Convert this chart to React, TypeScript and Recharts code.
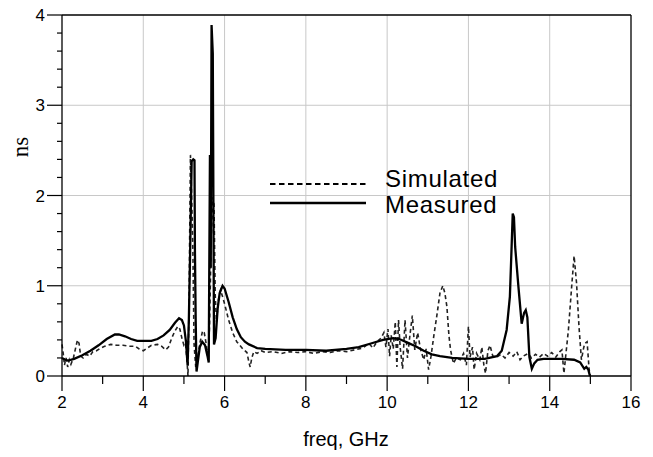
import { LineChart, Line, XAxis, YAxis, ReferenceLine } from 'recharts'

// frequency (GHz) / group delay (ns)
const measuredFreq = [2.0, 2.08, 2.15, 2.3, 2.5, 2.7, 2.9, 3.1, 3.3, 3.4, 3.55, 3.7, 3.85, 4.0, 4.2, 4.35, 4.5, 4.65, 4.78, 4.88, 4.95, 5.0, 5.05, 5.09, 5.12, 5.15, 5.19, 5.23, 5.26, 5.27, 5.29, 5.31, 5.34, 5.39, 5.45, 5.52, 5.58, 5.61, 5.64, 5.66, 5.68, 5.71, 5.74, 5.78, 5.83, 5.88, 5.95, 6.0, 6.1, 6.2, 6.3, 6.4, 6.5, 6.6, 6.8, 7.0, 7.5, 8.0, 8.5, 9.0, 9.3, 9.6, 9.9, 10.15, 10.3, 10.5, 10.7, 10.9, 11.1, 11.3, 11.6, 12.0, 12.4, 12.7, 12.82, 12.94, 13.02, 13.06, 13.09, 13.12, 13.15, 13.23, 13.31, 13.37, 13.41, 13.45, 13.5, 13.56, 13.62, 13.7, 13.85, 14.0, 14.3, 14.6, 14.75, 14.85, 14.9, 14.95, 14.99]
const measuredDelay = [0.2, 0.18, 0.17, 0.19, 0.23, 0.28, 0.34, 0.41, 0.46, 0.46, 0.44, 0.41, 0.39, 0.39, 0.39, 0.41, 0.45, 0.51, 0.59, 0.64, 0.62, 0.56, 0.38, 0.12, 0.6, 1.3, 2.38, 2.4, 2.39, 1.42, 0.6, 0.05, 0.15, 0.32, 0.38, 0.34, 0.22, 0.15, 2.45, 1.2, 3.89, 3.57, 0.35, 0.42, 0.75, 0.92, 1.0, 0.97, 0.82, 0.65, 0.52, 0.43, 0.38, 0.35, 0.31, 0.3, 0.29, 0.29, 0.28, 0.3, 0.32, 0.36, 0.4, 0.42, 0.41, 0.37, 0.33, 0.28, 0.24, 0.22, 0.2, 0.19, 0.19, 0.22, 0.28, 0.51, 0.88, 1.4, 1.8, 1.76, 1.43, 0.99, 0.58, 0.7, 0.73, 0.65, 0.21, 0.08, 0.14, 0.18, 0.19, 0.19, 0.19, 0.18, 0.15, 0.08, 0.1, 0.07, 0.0]

const simulatedFreq = [2.0, 2.03, 2.06, 2.1, 2.14, 2.18, 2.22, 2.28, 2.33, 2.38, 2.42, 2.46, 2.52, 2.6, 2.68, 2.76, 2.85, 2.95, 3.05, 3.2, 3.35, 3.5, 3.65, 3.8, 3.9, 4.0, 4.1, 4.2, 4.35, 4.45, 4.55, 4.62, 4.7, 4.78, 4.85, 4.9, 4.95, 5.0, 5.04, 5.07, 5.1, 5.13, 5.16, 5.19, 5.22, 5.25, 5.29, 5.33, 5.4, 5.46, 5.5, 5.55, 5.6, 5.63, 5.67, 5.71, 5.74, 5.77, 5.8, 5.85, 5.9, 5.95, 6.0, 6.1, 6.2, 6.3, 6.45, 6.55, 6.6, 6.63, 6.67, 6.72, 6.8, 6.9, 7.0, 7.2, 7.4, 7.6, 7.8, 8.0, 8.2, 8.4, 8.6, 8.8, 9.0, 9.2, 9.4, 9.55, 9.65, 9.75, 9.85, 9.92, 9.97, 10.02, 10.06, 10.1, 10.15, 10.2, 10.24, 10.28, 10.32, 10.38, 10.44, 10.5, 10.56, 10.62, 10.68, 10.75, 10.82, 10.9, 10.96, 11.02, 11.08, 11.15, 11.22, 11.3, 11.37, 11.42, 11.47, 11.52, 11.56, 11.63, 11.7, 11.8, 11.88, 11.95, 12.0, 12.04, 12.1, 12.14, 12.2, 12.28, 12.33, 12.38, 12.42, 12.48, 12.53, 12.6, 12.7, 12.8, 12.9, 13.0, 13.1, 13.19, 13.27, 13.35, 13.47, 13.55, 13.65, 13.75, 13.85, 13.95, 14.05, 14.15, 14.25, 14.3, 14.35, 14.4, 14.46, 14.54, 14.6, 14.66, 14.72, 14.78, 14.83, 14.86, 14.92, 14.97, 15.0]
const simulatedDelay = [0.35, 0.25, 0.12, 0.2, 0.1, 0.18, 0.13, 0.2, 0.3, 0.4, 0.36, 0.22, 0.2, 0.24, 0.22, 0.27, 0.28, 0.31, 0.33, 0.35, 0.34, 0.34, 0.33, 0.33, 0.3, 0.28, 0.31, 0.34, 0.35, 0.33, 0.29, 0.32, 0.42, 0.5, 0.55, 0.52, 0.42, 0.34, 0.36, 0.2, 0.0, 1.0, 2.45, 2.0, 1.4, 0.35, 0.1, 0.18, 0.38, 0.5, 0.48, 0.35, 0.18, 0.55, 1.5, 1.98, 1.9, 0.9, 0.6, 0.85, 0.95, 0.88, 0.8, 0.62, 0.48, 0.38, 0.3, 0.26, 0.15, 0.1, 0.2, 0.27, 0.25, 0.28, 0.26, 0.27, 0.25, 0.27, 0.26, 0.27, 0.25, 0.27, 0.26, 0.28, 0.27, 0.29, 0.31, 0.36, 0.31, 0.38, 0.42, 0.48, 0.32, 0.52, 0.22, 0.45, 0.3, 0.6, 0.1, 0.62, 0.32, 0.08, 0.62, 0.2, 0.45, 0.67, 0.29, 0.48, 0.3, 0.18, 0.3, 0.07, 0.22, 0.45, 0.66, 0.92, 1.0, 0.92, 0.77, 0.45, 0.29, 0.14, 0.2, 0.18, 0.25, 0.12, 0.55, 0.21, 0.32, 0.07, 0.25, 0.18, 0.32, 0.12, 0.03, 0.28, 0.34, 0.22, 0.21, 0.24, 0.2, 0.26, 0.22, 0.27, 0.18, 0.22, 0.25, 0.2, 0.24, 0.21, 0.25, 0.22, 0.26, 0.21, 0.27, 0.29, 0.03, 0.25, 0.51, 0.99, 1.33, 1.03, 0.55, 0.18, 0.3, 0.36, 0.38, 0.07, 0.0]

const xTicks = [2, 3, 4, 5, 6, 7, 8, 9, 10, 11, 12, 13, 14, 15, 16]
const yTicks = [0, 0.2, 0.4, 0.6, 0.8, 1, 1.2, 1.4, 1.6, 1.8, 2, 2.2, 2.4, 2.6, 2.8, 3, 3.2, 3.4, 3.6, 3.8, 4]
const xGrid = [4, 6, 8, 10, 12, 14]
const yGrid = [1, 2, 3]

const measured = measuredFreq.map((f, i) => ({ f, v: measuredDelay[i] }))
const simulated = simulatedFreq.map((f, i) => ({ f, v: simulatedDelay[i] }))

const font = 'Liberation Sans, Arial, sans-serif'

const isMajor = (v: number, step: number) => Math.abs(v / step - Math.round(v / step)) < 1e-6

function XTick(props: any) {
    const { x, y, payload } = props
    const major = isMajor(payload.value, 2)
    return (
        <g>
            <line x1={x} x2={x} y1={y} y2={y + (major ? 15 : 8)} stroke="#000" strokeWidth={1.2} />
            {major && (
                <text x={x} y={y + 32} textAnchor="middle" fontFamily={font} fontSize={17} fill="#000">
                    {payload.value}
                </text>
            )}
        </g>
    )
}

function YTick(props: any) {
    const { x, y, payload } = props
    const major = isMajor(payload.value, 1)
    return (
        <g>
            <line x1={x - (major ? 15 : 5)} x2={x} y1={y} y2={y} stroke="#000" strokeWidth={1.2} />
            {major && (
                <text x={x - 17} y={y + 6} textAnchor="end" fontFamily={font} fontSize={17} fill="#000">
                    {payload.value}
                </text>
            )}
        </g>
    )
}

export default function App() {
    return (
        <div style={{ position: 'absolute', left: 0, top: 0, width: 653, height: 457, background: '#fff' }}>
            <LineChart width={653} height={457} data={measured} margin={{ top: 15, right: 22, bottom: 41, left: 0 }}>
                {xGrid.map(v => (
                    <ReferenceLine key={'gx' + v} x={v} stroke="#c8c8c8" />
                ))}
                {yGrid.map(v => (
                    <ReferenceLine key={'gy' + v} y={v} stroke="#c8c8c8" />
                ))}
                <ReferenceLine y={4} stroke="#000" strokeWidth={1.3} />
                <ReferenceLine x={16} stroke="#000" strokeWidth={1.3} />
                <XAxis
                    type="number"
                    dataKey="f"
                    domain={[2, 16]}
                    ticks={xTicks}
                    interval={0}
                    height={40}
                    tickSize={0}
                    tickMargin={0}
                    tickLine={false}
                    axisLine={{ stroke: '#000', strokeWidth: 1.3 }}
                    tick={<XTick />}
                />
                <YAxis
                    type="number"
                    domain={[0, 4]}
                    ticks={yTicks}
                    interval={0}
                    width={62}
                    tickSize={0}
                    tickMargin={0}
                    tickLine={false}
                    axisLine={{ stroke: '#000', strokeWidth: 1.3 }}
                    tick={<YTick />}
                />
                <Line
                    data={simulated}
                    dataKey="v"
                    type="linear"
                    stroke="#222"
                    strokeWidth={1.6}
                    strokeDasharray="4 3"
                    dot={false}
                    isAnimationActive={false}
                />
                <Line
                    data={measured}
                    dataKey="v"
                    type="linear"
                    stroke="#000"
                    strokeWidth={2.3}
                    dot={false}
                    isAnimationActive={false}
                />
            </LineChart>
            <svg width={653} height={457} style={{ position: 'absolute', left: 0, top: 0, pointerEvents: 'none' }}>
                <line x1={270} x2={366} y1={184} y2={184} stroke="#000" strokeWidth={2} strokeDasharray="5.5 3.5" />
                <text x={385} y={187} fontFamily={font} fontSize={24} letterSpacing={0.7} fill="#000">Simulated</text>
                <line x1={270} x2={366} y1={203} y2={203} stroke="#000" strokeWidth={2.4} />
                <text x={385} y={213} fontFamily={font} fontSize={24} letterSpacing={0.7} fill="#000">Measured</text>
                <text x={346} y={446} textAnchor="middle" fontFamily={font} fontSize={20} fill="#000">freq, GHz</text>
                <text
                    transform="translate(28,147) rotate(-90)"
                    textAnchor="middle"
                    fontFamily="Liberation Serif, Times New Roman, serif"
                    fontSize={23}
                    fill="#000"
                >
                    ns
                </text>
            </svg>
        </div>
    )
}
